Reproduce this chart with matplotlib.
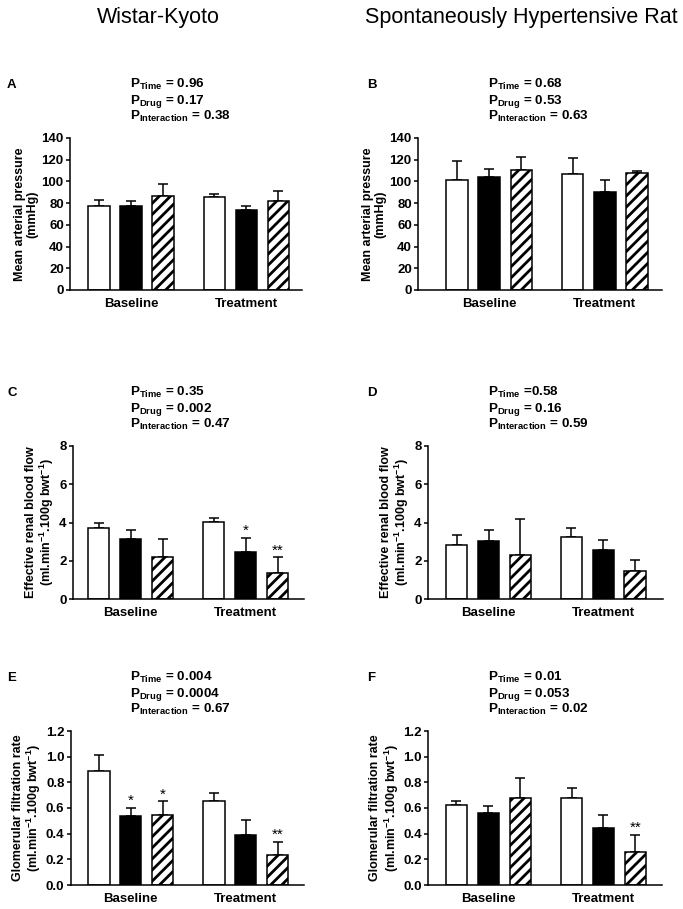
import matplotlib
matplotlib.use("Agg")
import matplotlib.pyplot as plt
import numpy as np

plt.rcParams.update({
    "font.family": "Liberation Sans",
    "mathtext.fontset": "custom",
    "mathtext.rm": "Liberation Sans",
    "mathtext.bf": "Liberation Sans:bold",
    "mathtext.it": "Liberation Sans:italic",
    "mathtext.default": "bf",
    "hatch.linewidth": 2.0,
    "axes.linewidth": 1.1,
})

GROUPS = ["Baseline", "Treatment"]

# mean / SEM, order: baseline (white, black, hatched), treatment (white, black, hatched)
map_wky = [77.5, 77.0, 86.4, 85.2, 73.8, 81.8]
map_wky_err = [5.8, 5.0, 11.3, 3.3, 3.4, 9.2]
map_shr = [101.0, 104.5, 110.6, 107.2, 90.4, 107.5]
map_shr_err = [17.9, 7.0, 11.9, 14.4, 11.0, 2.2]
erbf_wky = [3.69, 3.14, 2.18, 4.02, 2.46, 1.38]
erbf_wky_err = [0.28, 0.49, 0.95, 0.21, 0.74, 0.80]
erbf_shr = [2.81, 3.02, 2.29, 3.25, 2.58, 1.48]
erbf_shr_err = [0.54, 0.60, 1.88, 0.47, 0.53, 0.58]
gfr_wky = [0.888, 0.540, 0.545, 0.655, 0.390, 0.236]
gfr_wky_err = [0.126, 0.063, 0.107, 0.058, 0.116, 0.099]
gfr_shr = [0.624, 0.560, 0.676, 0.679, 0.445, 0.254]
gfr_shr_err = [0.031, 0.058, 0.160, 0.073, 0.097, 0.134]

stars_c = ["", "", "", "", "*", "**"]
stars_e = ["", "*", "*", "", "", "**"]
stars_f = ["", "", "", "", "", "**"]
no_stars = [""] * 6

p_a = ["0.96", "0.17", "0.38"]
p_b = ["0.68", "0.53", "0.63"]
p_c = ["0.35", "0.002", "0.47"]
p_d = ["0.58", "0.16", "0.59"]
p_e = ["0.004", "0.0004", "0.67"]
p_f = ["0.01", "0.053", "0.02"]

W, H = 683, 909
fig = plt.figure(figsize=(W / 100, H / 100), dpi=100)


def px_axes(l, t, r, b):
    return fig.add_axes([l / W, 1 - b / H, (r - l) / W, (b - t) / H])


def panel(box, xlim, means, errs, stars, ylim, ystep, yfmt, ylabel, letter, pvals, ptime_sep=" = "):
    l, t, r, b = box
    ax = px_axes(l, t, r, b)
    x = np.repeat(np.arange(2), 3) + np.tile([-0.2775, 0.0, 0.2775], 2)
    faces = ["white", "black", "white"] * 2
    hatches = ["", "", "///"] * 2
    for xi, m, e, fc, h in zip(x, means, errs, faces, hatches):
        ax.bar(xi, m, width=0.185, color=fc, edgecolor="black", linewidth=1.1, hatch=h, zorder=2)
        ax.errorbar(xi, m, yerr=[[0], [e]], fmt="none", ecolor="black", elinewidth=1.1,
                    capsize=3.8, capthick=1.1, zorder=1)
    for xi, m, e, s in zip(x, means, errs, stars):
        if s:
            ax.annotate(s, (xi, m + e), xytext=(0, 0), textcoords="offset points",
                        ha="center", va="bottom", fontsize=11)
    ax.set_xlim(*xlim)
    ax.set_ylim(0, ylim)
    ax.set_yticks(np.arange(0, ylim + ystep / 2, ystep))
    ax.set_yticklabels([yfmt.format(v) for v in np.arange(0, ylim + ystep / 2, ystep)],
                       fontsize=9.5, fontweight="bold")
    ax.set_xticks([0, 1])
    ax.set_xticklabels(GROUPS, fontsize=9.5, fontweight="bold")
    ax.tick_params(axis="x", length=0, pad=5.5)
    ax.tick_params(axis="y", length=3, width=1.1, pad=1.5)
    ax.spines["top"].set_visible(False)
    ax.spines["right"].set_visible(False)
    ax.set_ylabel(ylabel, fontsize=9, fontweight="bold", labelpad=2, linespacing=1.1)
    # panel letter and two-way ANOVA p-values
    lx = 7 if l < 300 else 367
    fig.text(lx / W, 1 - (t - 53) / H, letter, fontsize=9.5, fontweight="bold", ha="left", va="center")
    px = 130 if l < 300 else 488
    labels = [r"P$_{Time}$" + ptime_sep + pvals[0],
              r"P$_{Drug}$ = " + pvals[1],
              r"P$_{Interaction}$ = " + pvals[2]]
    for i, s in enumerate(labels):
        fig.text(px / W, 1 - (t - 50.5 + 16.3 * i) / H, s, fontsize=9.7, fontweight="bold",
                 ha="left", va="baseline")
    return ax


map_lab = "Mean arterial pressure\n(mmHg)"
erbf_lab = "Effective renal blood flow\n" + r"(ml.min$^{-1}$.100g bwt$^{-1}$)"
gfr_lab = "Glomerular filtration rate\n" + r"(ml.min$^{-1}$.100g bwt$^{-1}$)"

panel((70, 138, 302, 290), (-0.528, 1.481), map_wky, map_wky_err, no_stars, 140, 20, "{:.0f}", map_lab, "A", p_a)
panel((418, 138, 662, 290), (-0.615, 1.494), map_shr, map_shr_err, no_stars, 140, 20, "{:.0f}", map_lab, "B", p_b)
panel((72.7, 446, 304, 599), (-0.504, 1.506), erbf_wky, erbf_wky_err, stars_c, 8, 2, "{:.0f}", erbf_lab, "C", p_c)
panel((427.7, 446, 663, 599), (-0.530, 1.521), erbf_shr, erbf_shr_err, no_stars, 8, 2, "{:.0f}", erbf_lab, "D", p_d, ptime_sep=" =")
panel((70.7, 731, 304, 885), (-0.523, 1.506), gfr_wky, gfr_wky_err, stars_e, 1.2, 0.2, "{:.1f}", gfr_lab, "E", p_e)
panel((428.3, 731, 662, 885), (-0.522, 1.509), gfr_shr, gfr_shr_err, stars_f, 1.2, 0.2, "{:.1f}", gfr_lab, "F", p_f)

fig.text(158 / W, 1 - 18 / H, "Wistar-Kyoto", fontsize=15.5, ha="center", va="center")
fig.text(521 / W, 1 - 18 / H, "Spontaneously Hypertensive Rat", fontsize=15.5, ha="center", va="center")

fig.savefig("out.png", dpi=100)
